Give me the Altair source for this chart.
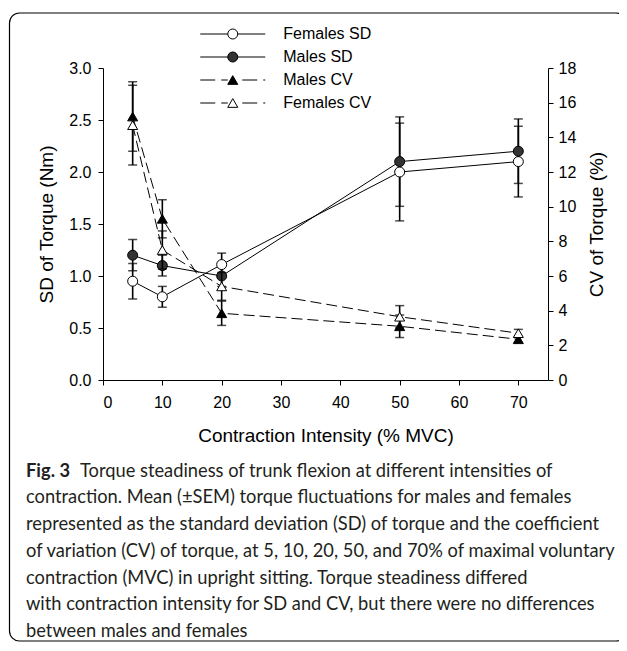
import altair as alt
import pandas as pd

# ---------------- data ----------------
intensity = [5, 10, 20, 50, 70]

females_sd = [0.95, 0.80, 1.11, 2.00, 2.10]
females_sd_sem = [0.17, 0.10, 0.11, 0.47, 0.34]
males_sd = [1.20, 1.10, 1.00, 2.10, 2.20]
males_sd_sem = [0.15, 0.10, 0.10, 0.43, 0.31]

males_cv = [15.2, 9.3, 3.85, 3.1, 2.35]
males_cv_sem = [2.0, 1.1, 0.7, 0.65, 0.18]
females_cv = [14.7, 7.5, 5.4, 3.65, 2.7]
females_cv_sem = [2.3, 1.1, 0.8, 0.64, 0.22]

series_names = ["Females SD", "Males SD", "Males CV", "Females CV"]
series_fills = ["white", "#333333", "black", "white"]

x_ticks = [0, 10, 20, 30, 40, 50, 60, 70]
sd_ticks = [0.0, 0.5, 1.0, 1.5, 2.0, 2.5, 3.0]
cv_ticks = [0, 2, 4, 6, 8, 10, 12, 14, 16, 18]

caption_bold = "Fig. 3"
caption_lines = [
    "Torque steadiness of trunk flexion at different intensities of",
    "contraction. Mean (\u00b1SEM) torque fluctuations for males and females",
    "represented as the standard deviation (SD) of torque and the coefficient",
    "of variation (CV) of torque, at 5, 10, 20, 50, and 70% of maximal voluntary",
    "contraction (MVC) in upright sitting. Torque steadiness differed",
    "with contraction intensity for SD and CV, but there were no differences",
    "between males and females",
]


def make_df(entries):
    rows = []
    for name, vals, sems in entries:
        for x, v, s in zip(intensity, vals, sems):
            rows.append({"series": name, "intensity": x, "value": v,
                         "lo": v - s, "hi": v + s})
    return pd.DataFrame(rows)


df_sd = make_df([("Females SD", females_sd, females_sd_sem),
                 ("Males SD", males_sd, males_sd_sem)])
df_cv = make_df([("Males CV", males_cv, males_cv_sem),
                 ("Females CV", females_cv, females_cv_sem)])

FONT = "Liberation Sans"

x_enc = alt.X(
    "intensity:Q",
    scale=alt.Scale(domain=[0, 75], nice=False),
    axis=alt.Axis(values=x_ticks, title="Contraction Intensity (% MVC)",
                  tickSize=5, labelPadding=9, titlePadding=16, grid=False),
)


def ysd(field):
    return alt.Y(field, scale=alt.Scale(domain=[0, 3], nice=False),
                 axis=alt.Axis(orient="left", values=sd_ticks, format=".1f",
                               title="SD of Torque (Nm)", tickSize=5,
                               labelPadding=7, titlePadding=12, grid=False))


def ycv(field):
    return alt.Y(field, scale=alt.Scale(domain=[0, 18], nice=False),
                 axis=alt.Axis(orient="right", values=cv_ticks, format="d",
                               title="CV of Torque (%)", tickSize=5,
                               labelPadding=5, titlePadding=12,
                               titleAngle=270, titleBaseline="top",
                               grid=False))


fill_scale = alt.Scale(domain=series_names, range=series_fills)

# ---------------- SD group ----------------
sd_base = alt.Chart(df_sd).encode(x=x_enc)
sd_err = sd_base.mark_rule(color="black", strokeWidth=1.6).encode(
    y=ysd("lo:Q"), y2="hi:Q")
sd_cap_hi = sd_base.mark_tick(orient="horizontal", size=9, thickness=1.5,
                              color="black").encode(y=ysd("hi:Q"))
sd_cap_lo = sd_base.mark_tick(orient="horizontal", size=9, thickness=1.5,
                              color="black").encode(y=ysd("lo:Q"))
sd_line = sd_base.mark_line(color="black", strokeWidth=1).encode(
    y=ysd("value:Q"), detail="series:N")
sd_pts = sd_base.mark_point(shape="circle", size=100, filled=True,
                            opacity=1, stroke="black",
                            strokeWidth=1).encode(
    y=ysd("value:Q"),
    fill=alt.Fill("series:N", scale=fill_scale, legend=None))
sd_group = alt.layer(sd_err, sd_cap_hi, sd_cap_lo, sd_line, sd_pts)

# ---------------- CV group ----------------
cv_base = alt.Chart(df_cv).encode(x=x_enc)
cv_err = cv_base.mark_rule(color="black", strokeWidth=1.6).encode(
    y=ycv("lo:Q"), y2="hi:Q")
cv_cap_hi = cv_base.mark_tick(orient="horizontal", size=9, thickness=1.5,
                              color="black").encode(y=ycv("hi:Q"))
cv_cap_lo = cv_base.mark_tick(orient="horizontal", size=9, thickness=1.5,
                              color="black").encode(y=ycv("lo:Q"))
cv_line = cv_base.mark_line(color="black", strokeWidth=1,
                            strokeDash=[11, 5]).encode(
    y=ycv("value:Q"), detail="series:N")
cv_pts = cv_base.mark_point(shape="triangle-up", size=100, filled=True,
                            opacity=1, stroke="black",
                            strokeWidth=1).encode(
    y=ycv("value:Q"),
    fill=alt.Fill("series:N", scale=fill_scale, legend=None))
cv_group = alt.layer(cv_err, cv_cap_hi, cv_cap_lo, cv_line, cv_pts)

# ---------------- legend (line + marker symbols) ----------------
solid_circle = "M-6.5,0H-1M1,0H6.5M1,0A1,1,0,1,1,-1,0A1,1,0,1,1,1,0Z"
dashed_tri = ("M-6.5,0H-3.5M-2.3,0H-1M1.9,0H4.9M6.1,0H6.5"
              "M0,-0.87L1,0.87L-1,0.87Z")
legend_paths = [solid_circle, solid_circle, dashed_tri, dashed_tri]

leg = alt.Legend(title=None, orient="none", legendX=121.75, legendY=-42,
                 padding=0, labelFont=FONT, labelFontSize=16,
                 labelColor="black", symbolSize=100, symbolStrokeColor="black",
                 symbolStrokeWidth=1, symbolOpacity=1, symbolOffset=0,
                 labelOffset=42.5, rowPadding=7)

legend_layer = alt.Chart(pd.DataFrame({"series": series_names})).mark_point(
    filled=True, opacity=1, stroke="black", strokeWidth=1, size=100
).encode(
    shape=alt.Shape("series:N", scale=alt.Scale(domain=series_names,
                                                range=legend_paths),
                    legend=leg),
    fill=alt.Fill("series:N", scale=alt.Scale(domain=series_names,
                                              range=series_fills),
                  legend=leg),
    stroke=alt.Stroke("series:N", scale=alt.Scale(domain=series_names,
                                                  range=["black"] * 4),
                      legend=leg),
).transform_filter("false")

# ---------------- frame and caption ----------------
one = pd.DataFrame({"a": [0]})
frame = alt.Chart(one).mark_rect(
    fill="white", fillOpacity=0, stroke="black", strokeWidth=1.2,
    cornerRadius=10
).encode(x=alt.value(-93.5), x2=alt.value(523),
         y=alt.value(-55), y2=alt.value(573))

cap_layers = []
cap_x0 = -77
cap_y0 = 403.7
cap_dy = 26.7
cap_font = "Lato"
cap_size = 18.3
cap_layers.append(
    alt.Chart(pd.DataFrame({"t": [caption_bold]})).mark_text(
        align="left", baseline="middle", font=cap_font, fontSize=cap_size,
        fontWeight="bold", color="#231f20"
    ).encode(text="t:N", x=alt.value(cap_x0), y=alt.value(cap_y0)))
for i, line in enumerate(caption_lines):
    xoff = cap_x0 + (54 if i == 0 else 0)
    cap_layers.append(
        alt.Chart(pd.DataFrame({"t": [line]})).mark_text(
            align="left", baseline="middle", font=cap_font,
            fontSize=cap_size, color="#231f20"
        ).encode(text="t:N", x=alt.value(xoff),
                 y=alt.value(cap_y0 + i * cap_dy)))

chart = alt.layer(
    frame, *cap_layers, sd_group, cv_group, legend_layer
).resolve_scale(
    y="independent", fill="independent", shape="independent",
    stroke="independent"
).properties(
    width=445, height=312,
    autosize=alt.AutoSizeParams(type="none"),
    padding={"left": 95, "top": 60, "right": 71, "bottom": 263},
).configure_view(
    strokeWidth=0
).configure_axis(
    labelFont=FONT, titleFont=FONT, labelFontSize=16, titleFontSize=19,
    titleFontWeight="normal", labelColor="black", titleColor="black",
    domainColor="black", tickColor="black", domainWidth=1, tickWidth=1,
)

chart.save("out.html", embed_options={"renderer": "svg", "actions": False})
